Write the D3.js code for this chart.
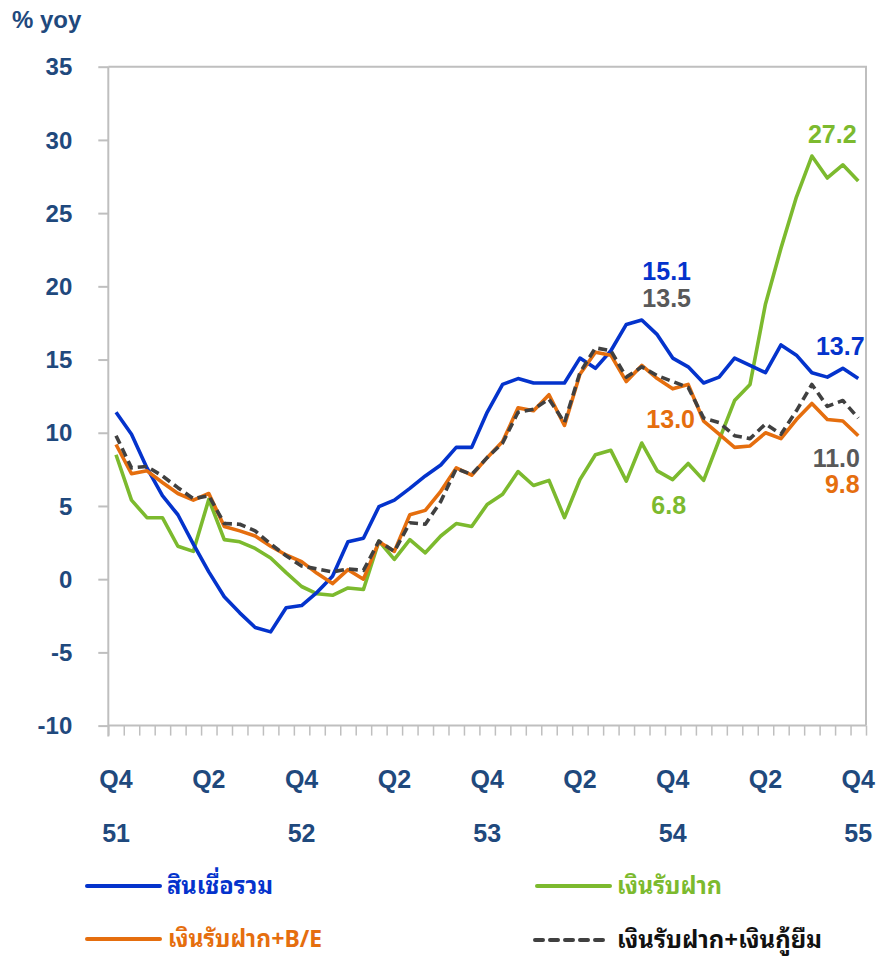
<!DOCTYPE html>
<html>
<head>
<meta charset="utf-8">
<script src="https://cdn.jsdelivr.net/npm/d3@7"></script>
<style>
  html, body { margin: 0; padding: 0; background: #ffffff; }
  svg { display: block; }
  text { font-family: "Liberation Sans", Arial, Helvetica, sans-serif; }
  .thai { font-family: "Noto Sans Thai Looped", "Noto Serif Thai", "Noto Sans Thai", "Noto Sans", "Liberation Sans", sans-serif; }
</style>
</head>
<body>
<svg id="chart" width="881" height="957"></svg>
<script>
// ---- DATA ----
const categories = [
  "12/51","1/52","2/52","3/52","4/52","5/52","6/52","7/52","8/52","9/52","10/52","11/52","12/52",
  "1/53","2/53","3/53","4/53","5/53","6/53","7/53","8/53","9/53","10/53","11/53","12/53",
  "1/54","2/54","3/54","4/54","5/54","6/54","7/54","8/54","9/54","10/54","11/54","12/54",
  "1/55","2/55","3/55","4/55","5/55","6/55","7/55","8/55","9/55","10/55","11/55","12/55"
];
const quarterLabels = ["Q4","Q2","Q4","Q2","Q4","Q2","Q4","Q2","Q4"];
const quarterIndex  = [0, 6, 12, 18, 24, 30, 36, 42, 48];
const yearLabels    = ["51","52","53","54","55"];
const yearIndex     = [0, 12, 24, 36, 48];
const yTicks        = [-10, -5, 0, 5, 10, 15, 20, 25, 30, 35];

const totalCredit = [11.4, 9.9, 7.6, 5.7, 4.4, 2.4, 0.5, -1.2, -2.3, -3.3, -3.6, -1.95, -1.8,
  -0.9, 0.2, 2.55, 2.8, 4.95, 5.4, 6.2, 7.05, 7.8, 9.0, 9.0, 11.4,
  13.3, 13.7, 13.4, 13.4, 13.4, 15.1, 14.4, 15.6, 17.4, 17.7, 16.7, 15.1,
  14.5, 13.4, 13.8, 15.1, 14.6, 14.1, 16.0, 15.3, 14.1, 13.8, 14.4, 13.7];
const deposits = [8.5, 5.4, 4.2, 4.2, 2.25, 1.9, 5.45, 2.7, 2.55, 2.1, 1.45, 0.45, -0.5,
  -1.0, -1.1, -0.6, -0.7, 2.6, 1.35, 2.7, 1.8, 2.95, 3.8, 3.6, 5.1,
  5.8, 7.35, 6.4, 6.75, 4.2, 6.8, 8.5, 8.8, 6.7, 9.3, 7.4, 6.8,
  7.9, 6.75, 9.5, 12.2, 13.3, 18.8, 22.6, 26.1, 28.9, 27.4, 28.3, 27.2];
const depositsBE = [9.2, 7.2, 7.4, 6.6, 5.85, 5.4, 5.85, 3.6, 3.3, 2.95, 2.25, 1.65, 1.2,
  0.4, -0.3, 0.65, 0.0, 2.55, 1.9, 4.4, 4.7, 6.0, 7.6, 7.1, 8.3,
  9.4, 11.7, 11.5, 12.6, 10.5, 14.0, 15.5, 15.3, 13.5, 14.6, 13.7, 13.0,
  13.3, 10.8, 9.9, 9.0, 9.1, 10.0, 9.6, 10.9, 12.0, 10.9, 10.8, 9.8];
const depositsBorrow = [9.8, 7.6, 7.7, 7.05, 6.25, 5.5, 5.7, 3.8, 3.75, 3.3, 2.4, 1.6, 0.9,
  0.7, 0.5, 0.7, 0.6, 2.6, 1.9, 3.85, 3.75, 5.3, 7.55, 7.15, 8.3,
  9.3, 11.4, 11.6, 12.3, 10.7, 14.1, 15.8, 15.6, 13.8, 14.5, 13.9, 13.5,
  13.1, 11.0, 10.7, 9.8, 9.6, 10.6, 9.9, 11.5, 13.3, 11.8, 12.2, 11.0];

const seriesNames = ["สินเชื่อรวม", "เงินรับฝาก", "เงินรับฝาก+B/E", "เงินรับฝาก+เงินกู้ยืม"];

// labels: [series, index, text]
const dataLabels = [
  ["credit", 36, "15.1"], ["borrow", 36, "13.5"], ["be", 36, "13.0"], ["dep", 36, "6.8"],
  ["dep", 48, "27.2"], ["credit", 48, "13.7"], ["borrow", 48, "11.0"], ["be", 48, "9.8"]
];

(function () {
// ---- STYLE ----
const C = {
  credit: "#0433CC",
  dep: "#7CBA2E",
  be: "#E56E0E",
  borrow: "#404040",
  axis: "#BFBFBF",
  text: "#1F497D",
  borrowLabel: "#595959",
  borrowLegend: "#111111"
};

const svg = d3.select("#chart");
const pLeft = 108.3, pRight = 866, pTop = 66.7, pBottom = 725.6;

const x = d3.scaleLinear().domain([-0.5, categories.length - 0.5]).range([pLeft, pRight]);
const y = d3.scaleLinear().domain([-10, 35]).range([pBottom, pTop]);

// plot border (top, right)
svg.append("path")
  .attr("d", `M${pLeft},${pTop}H${pRight}V${pBottom}`)
  .attr("fill", "none").attr("stroke", C.axis).attr("stroke-width", 2);

// Y axis
const yAxis = svg.append("g").attr("transform", `translate(${pLeft},0)`)
  .call(d3.axisLeft(y).tickValues(yTicks).tickSize(10).tickPadding(26).tickFormat(d => String(d)));
yAxis.select(".domain").attr("stroke", C.axis).attr("stroke-width", 2)
  .attr("d", `M0,${pTop}V${pBottom + 11}`);
yAxis.selectAll(".tick line").attr("stroke", C.axis).attr("stroke-width", 2);
yAxis.selectAll(".tick text").attr("fill", C.text).attr("font-size", 24).attr("font-weight", "bold")
  .attr("font-family", "'Liberation Sans', Arial, sans-serif").attr("dy", "0.34em");

// X axis (ticks between categories)
const xTickVals = d3.range(-0.5, categories.length, 1);
const xAxis = svg.append("g").attr("transform", `translate(0,${pBottom})`)
  .call(d3.axisBottom(x).tickValues(xTickVals).tickSize(10).tickFormat(""));
xAxis.select(".domain").attr("stroke", C.axis).attr("stroke-width", 2).attr("d", `M${pLeft},0H${pRight}`);
xAxis.selectAll(".tick line").attr("stroke", C.axis).attr("stroke-width", 1.5);

// x labels
svg.append("g").selectAll("text").data(quarterLabels).join("text")
  .attr("x", (d, i) => x(quarterIndex[i]))
  .attr("y", 788)
  .attr("text-anchor", "middle")
  .attr("font-size", 25).attr("font-weight", "bold").attr("fill", C.text)
  .text(d => d);
svg.append("g").selectAll("text").data(yearLabels).join("text")
  .attr("x", (d, i) => x(yearIndex[i]))
  .attr("y", 842)
  .attr("text-anchor", "middle")
  .attr("font-size", 25).attr("font-weight", "bold").attr("fill", C.text)
  .text(d => d);

// title
svg.append("text").attr("x", 12).attr("y", 28).attr("font-size", 24).attr("font-weight", "bold")
  .attr("fill", C.text).text("% yoy");

// lines
const line = d3.line().x((d, i) => x(i)).y(d => y(d));
const seriesDefs = [
  { key: "dep", data: deposits, color: C.dep, dash: null },
  { key: "credit", data: totalCredit, color: C.credit, dash: null },
  { key: "be", data: depositsBE, color: C.be, dash: null },
  { key: "borrow", data: depositsBorrow, color: C.borrow, dash: "9,5" }
];
const byKey = {};
seriesDefs.forEach(s => byKey[s.key] = s);
svg.append("g").selectAll("path").data(seriesDefs).join("path")
  .attr("d", s => line(s.data))
  .attr("fill", "none")
  .attr("stroke", s => s.color)
  .attr("stroke-width", 3.6)
  .attr("stroke-linejoin", "round")
  .attr("stroke-dasharray", s => s.dash);

// data labels (offsets from their data point)
const labelPos = {
  "credit36": [-6, -78], "borrow36": [-6, -75], "be36": [-2, 39], "dep36": [-4, 34],
  "dep48": [-26, -38], "credit48": [-18, -24], "borrow48": [-22, 49], "be48": [-16, 57]
};
svg.append("g").selectAll("text").data(dataLabels).join("text")
  .attr("x", d => x(d[1]) + labelPos[d[0] + d[1]][0])
  .attr("y", d => y(byKey[d[0]].data[d[1]]) + labelPos[d[0] + d[1]][1])
  .attr("text-anchor", "middle")
  .attr("font-size", 25).attr("font-weight", "bold")
  .attr("fill", d => d[0] === "borrow" ? C.borrowLabel : byKey[d[0]].color)
  .text(d => d[2]);

// legend
const legend = [
  { name: seriesNames[0], color: C.credit, textColor: C.credit, dash: null, x: 87, y: 886, tx: 167, tw: 106 },
  { name: seriesNames[1], color: C.dep, textColor: C.dep, dash: null, x: 537, y: 886, tx: 617, tw: 105 },
  { name: seriesNames[2], color: C.be, textColor: C.be, dash: null, x: 87, y: 939, tx: 168, tw: 154 },
  { name: seriesNames[3], color: C.borrow, textColor: C.borrowLegend, dash: "9,5", x: 535, y: 940, tx: 617, tw: 205 }
];
const lg = svg.append("g");
legend.forEach(l => {
  lg.append("line").attr("x1", l.x).attr("x2", l.x + 73).attr("y1", l.y).attr("y2", l.y)
    .attr("stroke", l.color).attr("stroke-width", 4).attr("stroke-linecap", "round")
    .attr("stroke-dasharray", l.dash ? "8,7" : null);
  lg.append("text").attr("class", "thai").attr("x", l.tx).attr("y", l.y + 8)
    .attr("font-size", 24).attr("font-weight", "bold").attr("fill", l.textColor)
    .attr("textLength", l.tw).attr("lengthAdjust", "spacingAndGlyphs")
    .text(l.name);
});
})();
</script>
</body>
</html>
